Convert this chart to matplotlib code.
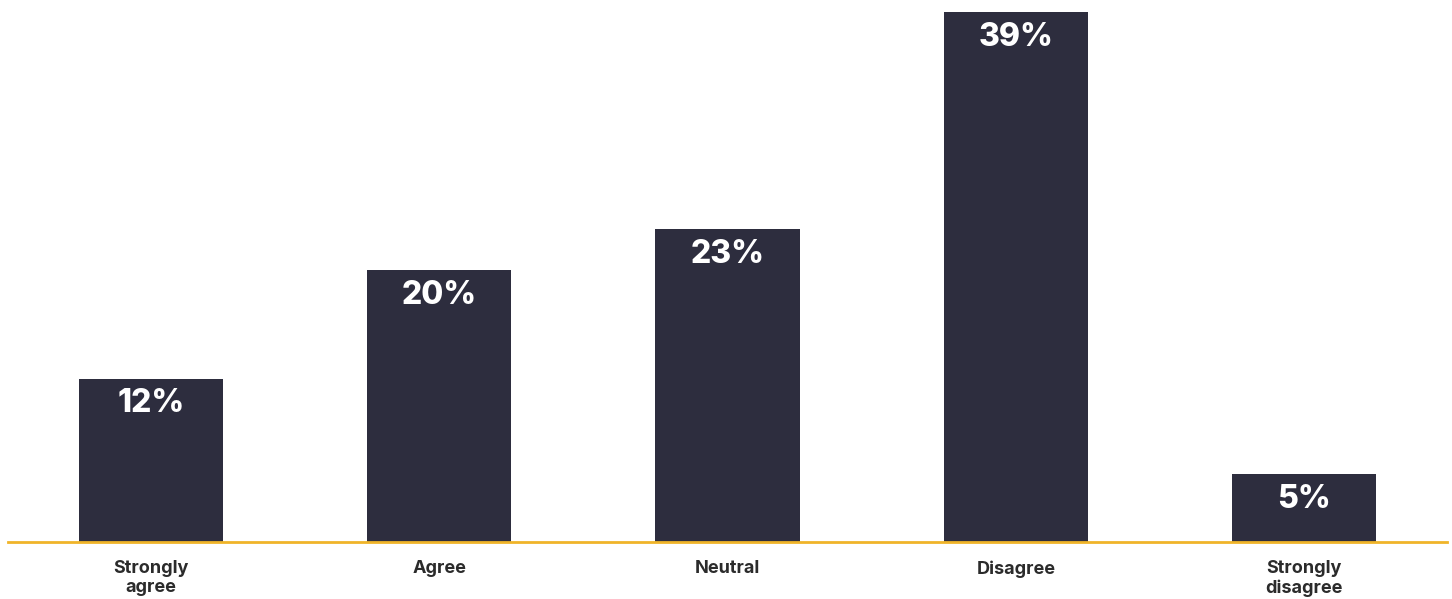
import matplotlib.pyplot as plt

categories = ["Strongly\nagree", "Agree", "Neutral", "Disagree", "Strongly\ndisagree"]
values = [12, 20, 23, 39, 5]

BAR_COLOR = "#2d2d3e"
LINE_COLOR = "#f0b429"
TEXT_COLOR = "#2b2b2b"

fig = plt.figure(figsize=(14.52, 5.99), dpi=100)
ax = fig.add_axes([8 / 1452, 57 / 599, 1439 / 1452, (542 - 12) / 599])

x = range(len(categories))
bars = ax.bar(x, values, width=0.5, color=BAR_COLOR, zorder=2)

for bar, v in zip(bars, values):
    ax.annotate(f"{v}%", (bar.get_x() + bar.get_width() / 2, v),
                xytext=(0, -18), textcoords="offset points",
                ha="center", va="center", color="white",
                fontsize=23, fontweight="heavy", family=["Inter", "DejaVu Sans"])

ax.set_xlim(-0.496, 4.496)
ax.set_ylim(0, 39)
ax.set_xticks(list(x))
ax.set_xticklabels(categories, fontsize=13, fontweight="bold", color=TEXT_COLOR,
                   family=["Inter", "DejaVu Sans"], linespacing=1.15)
ax.tick_params(axis="x", length=0, pad=13)
ax.set_yticks([])

for side in ["top", "left", "right"]:
    ax.spines[side].set_visible(False)
ax.spines["bottom"].set_color(LINE_COLOR)
ax.spines["bottom"].set_linewidth(2)
ax.spines["bottom"].set_zorder(3)

fig.savefig("out.png", dpi=100)
